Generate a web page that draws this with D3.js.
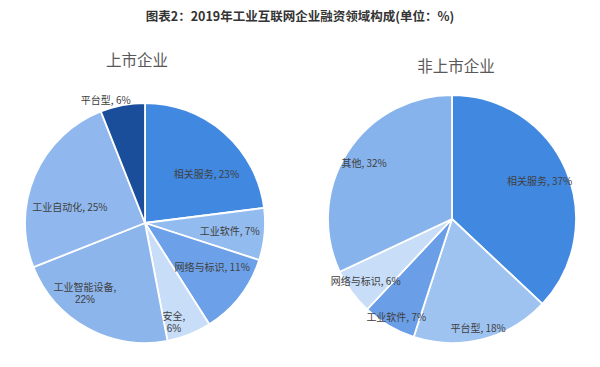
<!DOCTYPE html>
<html><head><meta charset="utf-8">
<script src="https://cdn.jsdelivr.net/npm/d3@7"></script>
<style>
html,body{margin:0;padding:0;background:#fff;}
svg{display:block;font-family:"Noto Sans CJK SC","Noto Sans",sans-serif;}
</style></head>
<body>
<svg id="c" width="600" height="367"></svg>
<script>
const title = "图表2：2019年工业互联网企业融资领域构成(单位：%)";

const listedCats = ["相关服务","工业软件","网络与标识","安全","工业智能设备","工业自动化","平台型"];
const listedVals = [23,7,11,6,22,25,6];
const listedColors = ["#4088E0","#92BBEF","#6CA0E8","#C8DEF8","#8CB5EC","#90B8EE","#1A4E9A"];

const unlistedCats = ["相关服务","平台型","工业软件","网络与标识","其他"];
const unlistedVals = [37,18,7,6,32];
const unlistedColors = ["#4088E0","#9EC3F1","#6A9FE7","#C8DEF8","#86B3EC"];

// label layout (radius fraction, angle nudge in degrees, line break)
const listedLabelR  = [0.65,0.71,0.67,0.86,0.77,0.64,1.07];
const listedLabelDA = [10.6,0.6,-4.5,5.3,11.8,-11.4,-7];
const listedBreak   = [false,false,false,true,true,false,false];
const unlistedLabelR  = [0.77,0.91,0.91,0.86,0.84];
const unlistedLabelDA = [0,1,-1,0,0];
const unlistedBreak   = [false,false,false,false,false];

const svg = d3.select("#c");
svg.append("text").attr("x",300).attr("y",21).attr("text-anchor","middle")
  .attr("font-size",12.5).attr("font-weight","bold").attr("fill","#333").text(title);

function drawPie(cfg){
  const g = svg.append("g").attr("transform",`translate(${cfg.cx},${cfg.cy})`);
  const data = cfg.cats.map((c,i)=>({cat:c,val:cfg.vals[i],i}));
  const pie = d3.pie().value(d=>d.val).sort(null);
  const arcs = pie(data);
  const arc = d3.arc().innerRadius(0).outerRadius(cfg.r);
  g.selectAll("path").data(arcs).join("path")
    .attr("d",arc).attr("fill",d=>cfg.colors[d.data.i])
    .attr("stroke","#fff").attr("stroke-width",1.8).attr("stroke-linejoin","round");
  arcs.forEach(a=>{
    const i = a.data.i;
    const mid = (a.startAngle+a.endAngle)/2 + cfg.da[i]*Math.PI/180;
    const rr = cfg.r*cfg.lr[i];
    const x = Math.sin(mid)*rr, y = -Math.cos(mid)*rr;
    const mk = (yy, s) => g.append("text").attr("text-anchor","middle").attr("font-size",10)
      .attr("fill","#404040").attr("x",x).attr("y",yy).text(s);
    if(cfg.br[i]){
      mk(y-2.5, a.data.cat+",");
      mk(y+10, a.data.val+"%").attr("font-family","'Liberation Sans',sans-serif");
    } else {
      mk(y+3.5, a.data.cat+", "+a.data.val+"%");
    }
  });
  svg.append("text").attr("x",cfg.tx).attr("y",cfg.ty).attr("text-anchor","middle")
    .attr("font-size",15.5).attr("fill","#595959").text(cfg.title);
}

drawPie({cx:145,cy:223,r:120,cats:listedCats,vals:listedVals,colors:listedColors,
  lr:listedLabelR,da:listedLabelDA,br:listedBreak,title:"上市企业",tx:137,ty:66});
drawPie({cx:452,cy:219,r:124,cats:unlistedCats,vals:unlistedVals,colors:unlistedColors,
  lr:unlistedLabelR,da:unlistedLabelDA,br:unlistedBreak,title:"非上市企业",tx:456,ty:72});
</script>
</body></html>
